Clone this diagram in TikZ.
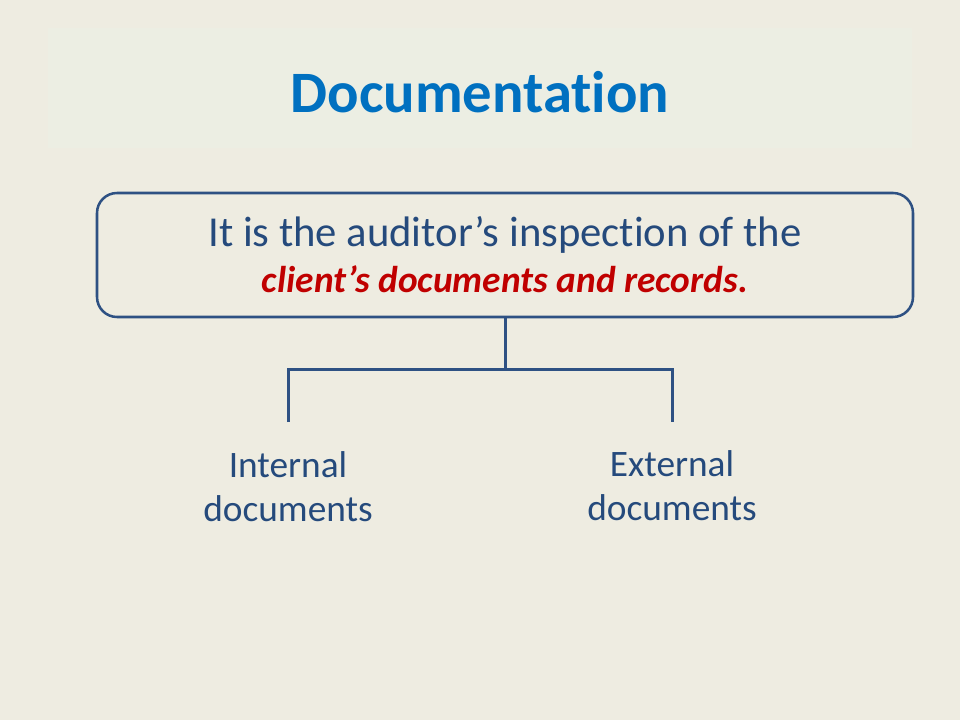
\documentclass[tikz,border=0pt]{standalone}
\usepackage{fontspec}
\setmainfont{Carlito}[Ligatures={TeX,NoCommon}]
\definecolor{bg}{HTML}{EEECE1}
\definecolor{band}{HTML}{ECEEE3}
\definecolor{titleblue}{HTML}{0070C0}
\definecolor{linec}{HTML}{2E5183}
\definecolor{txt}{HTML}{254A7C}
\definecolor{redt}{HTML}{C00000}
\begin{document}
\begin{tikzpicture}[x=0.75pt,y=-0.75pt,
  conn/.style={draw=linec,line width=2.25pt},
  leaf/.style={text=txt,font=\fontsize{28}{33}\selectfont,align=center}]
\fill[bg] (0,0) rectangle (960,720);
\useasboundingbox (0,0) rectangle (960,720);
\fill[band] (48,28) rectangle (912,148);
\node[text=titleblue,font=\fontsize{44}{52}\selectfont\bfseries] (title) at (480,92) {Documentation};
\node[draw=linec,line width=1.9pt,rounded corners=15pt,minimum width=612pt,minimum height=93pt,align=center,text=txt,inner sep=0pt,font=\fontsize{32}{34.5}\selectfont] (box) at (505,255)
  {It is the auditor’s inspection of the\\
   {\fontsize{28}{34.5}\selectfont\bfseries\itshape\color{redt}client’s documents and records.}};
\coordinate (j) at (505,369);
\coordinate (lend) at (288,422);
\coordinate (rend) at (672,422);
\draw[conn] (box.south) -- (j);
\draw[conn] (lend) -- (lend |- j) -- (rend |- j) -- (rend);
\node[leaf] (internal) at (288,487) {Internal\\documents};
\node[leaf] (external) at (672,486) {External\\documents};
\end{tikzpicture}
\end{document}
